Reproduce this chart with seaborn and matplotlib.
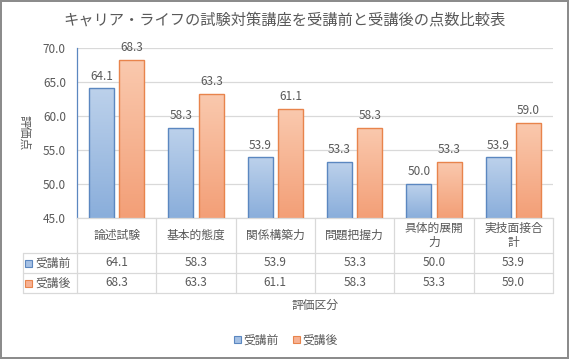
import numpy as np
import pandas as pd
import matplotlib
matplotlib.use("Agg")
import matplotlib.pyplot as plt
from matplotlib.lines import Line2D
from matplotlib.patches import Rectangle
from matplotlib.colors import LinearSegmentedColormap
from matplotlib.ticker import FormatStrFormatter
import seaborn as sns

# data
title = "キャリア・ライフの試験対策講座を受講前と受講後の点数比較表"
categories = ["論述試験", "基本的態度", "関係構築力", "問題把握力", "具体的展開力", "実技面接合計"]
cat_labels = ["論述試験", "基本的態度", "関係構築力", "問題把握力", "具体的展開\n力", "実技面接合\n計"]
series = ["受講前", "受講後"]
before = [64.1, 58.3, 53.9, 53.3, 50.0, 53.9]
after = [68.3, 63.3, 61.1, 58.3, 53.3, 59.0]

W, H = 569, 359
TXT = "#595959"
GRID = "#d9d9d9"
fills = ["#a6c1e4", "#f7b294"]
edges = ["#5b87c0", "#e8844c"]
grads = [("#bcd1eb", "#8aaedb"), ("#fac9ae", "#f39f77")]

sns.set_style("white")
plt.rcParams["font.family"] = ["Noto Sans CJK JP", "DejaVu Sans"]

df = pd.DataFrame({
    "評価区分": categories * 2,
    "区分": [series[0]] * len(categories) + [series[1]] * len(categories),
    "評価点": before + after,
})

fig = plt.figure(figsize=(W / 100, H / 100), dpi=100)
fig.patch.set_edgecolor("#8c8c8c")
fig.patch.set_linewidth(1.5)

def fx(x):
    return x / W

def fy(y):
    return 1 - y / H

left, right, top, bottom = 77, 553, 48, 218
ax = fig.add_axes([fx(left), fy(bottom), (right - left) / W, (bottom - top) / H])

sns.barplot(data=df, x="評価区分", y="評価点", hue="区分", palette=fills,
            width=0.77, gap=0.18, linewidth=1, ax=ax, legend=False)

ax.set_ylim(45, 70)
ax.set_xlim(-0.5, len(categories) - 0.5)
ax.set_yticks(np.arange(45, 70.1, 5))
ax.yaxis.set_major_formatter(FormatStrFormatter("%.1f"))
ax.tick_params(axis="y", direction="out", length=4, width=0.8, color="#868686",
               labelcolor=TXT, labelsize=8.5, pad=4)
ax.tick_params(axis="x", length=0, labelbottom=False)
ax.set_xlabel("")
ax.set_ylabel("")
ax.grid(axis="y", color=GRID, linewidth=0.9)
ax.set_axisbelow(True)
for s in ["top", "right"]:
    ax.spines[s].set_visible(False)
ax.spines["left"].set_color(edges[0])
ax.spines["left"].set_linewidth(0.9)
ax.spines["bottom"].set_color(GRID)
ax.spines["bottom"].set_linewidth(0.9)

# bars: gradient fill, edge color and value labels
for i, cont in enumerate(ax.containers):
    cmap = LinearSegmentedColormap.from_list("g%d" % i, [grads[i][1], grads[i][0]])
    for patch in cont:
        x0 = patch.get_x()
        w = patch.get_width()
        h = patch.get_height()
        patch.set_facecolor("none")
        patch.set_edgecolor(edges[i])
        patch.set_zorder(3)
        im = ax.imshow(np.linspace(0, 1, 64).reshape(-1, 1), cmap=cmap, origin="lower",
                       extent=[x0, x0 + w, 45, h], aspect="auto", zorder=2.5)
        im.set_clip_path(patch)
        ax.annotate("%.1f" % h, (x0 + w / 2, h), xytext=(0, 4), textcoords="offset points",
                    ha="center", va="bottom", fontsize=8.5, color=TXT)
ax.set_xlim(-0.5, len(categories) - 0.5)
ax.set_ylim(45, 70)

# title and axis labels
fig.text(fx(284), fy(20), title, ha="center", va="center", fontsize=11, color=TXT)
fig.text(fx(24), fy(133), "評価点", ha="center", va="center", rotation=270,
         fontsize=8.5, color=TXT)
fig.text(fx(315), fy(305), "評価区分", ha="center", va="center", fontsize=8.5, color=TXT)

# data table under the plot
cols = np.linspace(left, right, len(categories) + 1)
r_head, r1, r2, r3 = 218, 253, 273, 293
hdr_left = 23

def hline(x0, x1, y):
    fig.add_artist(Line2D([fx(x0), fx(x1)], [fy(y), fy(y)], color=GRID, lw=0.9,
                          transform=fig.transFigure))

def vline(x, y0, y1):
    fig.add_artist(Line2D([fx(x), fx(x)], [fy(y0), fy(y1)], color=GRID, lw=0.9,
                          transform=fig.transFigure))

for y in [r1, r2, r3]:
    hline(hdr_left, right, y)
for x in cols:
    vline(x, r_head, r3)
vline(hdr_left, r1, r3)

for j, lab in enumerate(cat_labels):
    cx = (cols[j] + cols[j + 1]) / 2
    fig.text(fx(cx), fy((r_head + r1) / 2), lab, ha="center", va="center", fontsize=8.5,
             color=TXT, linespacing=1.1)
    fig.text(fx(cx), fy((r1 + r2) / 2), "%.1f" % before[j], ha="center", va="center",
             fontsize=8.5, color=TXT)
    fig.text(fx(cx), fy((r2 + r3) / 2), "%.1f" % after[j], ha="center", va="center",
             fontsize=8.5, color=TXT)

for k, (name, ya, yb) in enumerate([(series[0], r1, r2), (series[1], r2, r3)]):
    yc = (ya + yb) / 2
    fig.add_artist(Rectangle((fx(25), fy(yc + 3.5)), 7 / W, 7 / H, facecolor=fills[k],
                             edgecolor=edges[k], lw=0.8, transform=fig.transFigure))
    fig.text(fx(35), fy(yc), name, ha="left", va="center", fontsize=8.5, color=TXT)

# legend
handles = [Rectangle((0, 0), 1, 1, facecolor=fills[k], edgecolor=edges[k], lw=0.8)
           for k in range(2)]
fig.legend(handles, series, loc="center", bbox_to_anchor=(fx(286), fy(340)), ncol=2,
           frameon=False, fontsize=8.5, labelcolor=TXT, handlelength=0.6,
           handleheight=0.6, handletextpad=0.2, columnspacing=1.2)

fig.savefig("out.png", dpi=100)
